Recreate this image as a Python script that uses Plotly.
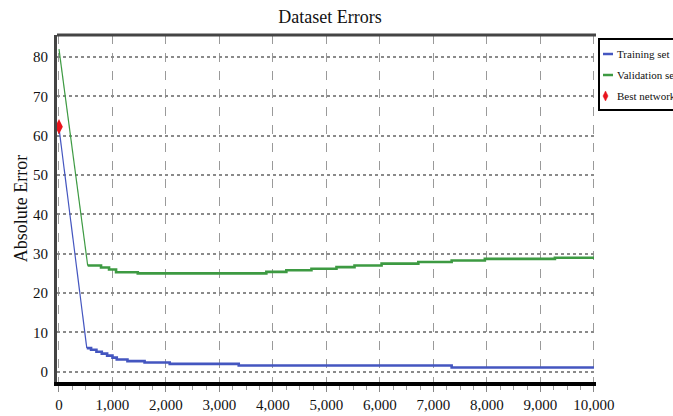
import plotly.graph_objects as go

# ---- data ----
train_drop_x = [0, 520]
train_drop_y = [62, 6.0]
train_step_x = [520, 600, 700, 800, 900, 1000, 1080, 1280, 1600, 2070, 3360, 7340, 10000]
train_step_y = [6.0, 5.6, 5.1, 4.6, 4.1, 3.6, 3.1, 2.7, 2.35, 2.0, 1.6, 1.1, 1.1]

val_drop_x = [0, 537]
val_drop_y = [82, 27.0]
val_step_x = [537, 786, 936, 1067, 1473, 3876, 4250, 4719, 5187, 5524, 6030, 6717, 7340, 7960, 9270, 10000]
val_step_y = [27.0, 26.5, 26.0, 25.3, 25.0, 25.4, 25.8, 26.2, 26.6, 27.0, 27.5, 27.9, 28.3, 28.7, 29.0, 29.0]

best_x = [0]
best_y = [62.3]

x_ticks = list(range(0, 10001, 1000))
y_ticks = list(range(0, 81, 10))

BLUE = "#4456c0"
GREEN = "#3d9a42"
RED = "#e8141c"
FONT = "Liberation Serif"

W, H = 673, 416
ML, MR, MT, MB = 57, 77, 35, 34
PW = W - ML - MR
PH = H - MT - MB


def px(xp):
    return (xp - ML) / PW


def py(yp):
    return (H - MB - yp) / PH


fig = go.Figure()
fig.add_trace(go.Scatter(x=train_drop_x, y=train_drop_y, mode="lines",
                         line=dict(color=BLUE, width=1.2), showlegend=False))
fig.add_trace(go.Scatter(x=train_step_x, y=train_step_y, mode="lines", line_shape="hv",
                         line=dict(color=BLUE, width=2.6), name="Training set", showlegend=False))
fig.add_trace(go.Scatter(x=val_drop_x, y=val_drop_y, mode="lines",
                         line=dict(color=GREEN, width=1.2), showlegend=False))
fig.add_trace(go.Scatter(x=val_step_x, y=val_step_y, mode="lines", line_shape="hv",
                         line=dict(color=GREEN, width=2.6), name="Validation set", showlegend=False))
fig.add_trace(go.Scatter(x=best_x, y=best_y, mode="markers",
                         marker=dict(symbol="diamond-tall", size=11, color=RED),
                         name="Best network", showlegend=False, cliponaxis=False))

shapes = [
    # top border
    dict(type="line", xref="paper", yref="paper", x0=0, x1=1, y0=1, y1=1,
         line=dict(color="#444444", width=3)),
    # legend box
    dict(type="rect", xref="paper", yref="paper", x0=px(599), x1=px(700), y0=py(110), y1=py(39),
         line=dict(color="#000000", width=2), fillcolor="white"),
    dict(type="line", xref="paper", yref="paper", x0=px(603), x1=px(613), y0=py(54), y1=py(54),
         line=dict(color=BLUE, width=2.5)),
    dict(type="line", xref="paper", yref="paper", x0=px(603), x1=px(613), y0=py(75), y1=py(75),
         line=dict(color=GREEN, width=2.5)),
    dict(type="path", xref="paper", yref="paper",
         path=f"M {px(605.5)},{py(91)} L {px(608)},{py(96)} L {px(605.5)},{py(101)} L {px(603)},{py(96)} Z",
         line=dict(color=RED, width=0.5), fillcolor=RED),
]

legend_labels = ["Training set", "Validation set", "Best network"]
legend_y = [54, 75, 96]
annotations = [
    dict(text=t, xref="paper", yref="paper", x=px(615), y=py(yy), xanchor="left", yanchor="middle",
         showarrow=False, font=dict(family=FONT, size=11, color="#111111"))
    for t, yy in zip(legend_labels, legend_y)
]

fig.update_layout(
    width=W, height=H,
    margin=dict(l=ML, r=MR, t=MT, b=MB, autoexpand=False),
    paper_bgcolor="white", plot_bgcolor="white",
    font=dict(family=FONT, color="#111111"),
    title=dict(text="Dataset Errors", x=330 / W, xanchor="center", y=1 - 17 / H, yanchor="middle",
               yref="container", font=dict(family=FONT, size=18, color="#111111")),
    shapes=shapes,
    annotations=annotations,
    showlegend=False,
)

fig.update_xaxes(
    automargin=False,
    range=[-37, 10038], tickvals=x_ticks, tickformat=",d",
    showgrid=True, gridcolor="#9a9a9a", gridwidth=1, griddash="dash",
    zeroline=False,
    showline=True, linecolor="#000000", linewidth=4,
    ticks="outside", ticklen=6, tickcolor="#888888", tickwidth=1,
    minor=dict(dtick=250, tick0=0, ticks="outside", ticklen=4, tickcolor="#999999", showgrid=False),
    ticklabelstandoff=0,
    tickfont=dict(family=FONT, size=15, color="#111111"),
)
fig.update_yaxes(
    automargin=False,
    range=[-2.6, 85.6], tickvals=y_ticks,
    showgrid=True, gridcolor="#8a8a8a", gridwidth=1.5, griddash="dot",
    zeroline=False,
    showline=True, linecolor="#444444", linewidth=3,
    ticks="", ticklabelstandoff=3,
    tickfont=dict(family=FONT, size=15, color="#111111"),
    title=dict(text="Absolute Error", standoff=1, font=dict(family=FONT, size=18, color="#111111")),
)

fig.write_html("out.html")
